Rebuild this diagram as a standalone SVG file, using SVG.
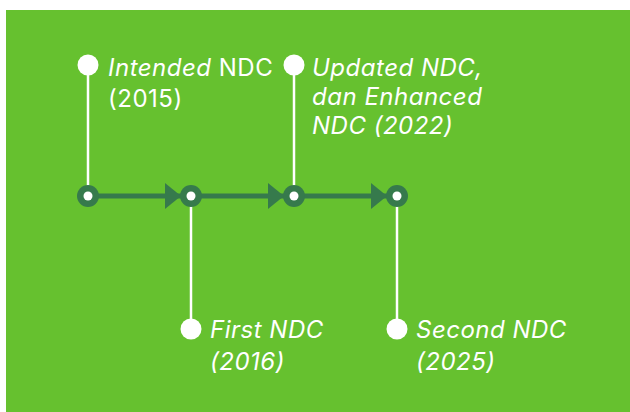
<svg xmlns="http://www.w3.org/2000/svg" width="630" height="412" viewBox="0 0 630 412">
  <defs>
    <style>
      .bg { fill: #66c12f; }
      .axis { stroke: #367a4c; stroke-width: 5; fill: none; }
      .arrow { fill: #367a4c; }
      .ring { fill: #367a4c; }
      .hole { fill: #ffffff; }
      .stem { stroke: #ffffff; stroke-width: 2.5; }
      .dot { fill: #ffffff; }
      .label { font-family: Inter, "Open Sans", sans-serif; font-size: 24px; letter-spacing: 0.5px; fill: #ffffff; }
      .it { font-style: italic; }
    </style>
  </defs>

  <rect class="bg" x="6" y="10" width="624" height="402"/>

  <!-- timeline axis with arrows and white stems -->
  <g id="connectors">
    <line class="axis" x1="88" y1="196" x2="397" y2="196"/>
    <polygon class="arrow" points="165,183 181,196 165,209"/>
    <polygon class="arrow" points="268,183 284,196 268,209"/>
    <polygon class="arrow" points="371,183 387,196 371,209"/>
    <line class="stem" x1="88" y1="65" x2="88" y2="196"/>
    <line class="stem" x1="191" y1="196" x2="191" y2="329"/>
    <line class="stem" x1="294" y1="65" x2="294" y2="196"/>
    <line class="stem" x1="397" y1="196" x2="397" y2="329"/>
  </g>

  <g id="node-2015">
    <circle class="ring" cx="88" cy="196" r="11"/>
    <circle class="hole" cx="88" cy="196" r="4.5"/>
    <circle class="dot" cx="88" cy="65" r="10.5"/>
    <text class="label" x="108" y="76"><tspan class="it">Intended</tspan> NDC</text>
    <text class="label" x="108" y="107">(2015)</text>
  </g>

  <g id="node-2016">
    <circle class="ring" cx="191" cy="196" r="11"/>
    <circle class="hole" cx="191" cy="196" r="4.5"/>
    <circle class="dot" cx="191" cy="329" r="10.5"/>
    <text class="label it" x="210" y="338">First NDC</text>
    <text class="label it" x="210" y="370">(2016)</text>
  </g>

  <g id="node-2022">
    <circle class="ring" cx="294" cy="196" r="11"/>
    <circle class="hole" cx="294" cy="196" r="4.5"/>
    <circle class="dot" cx="294" cy="65" r="10.5"/>
    <text class="label it" x="312" y="76">Updated NDC,</text>
    <text class="label it" x="312" y="105">dan Enhanced</text>
    <text class="label it" x="312" y="134">NDC (2022)</text>
  </g>

  <g id="node-2025">
    <circle class="ring" cx="397" cy="196" r="11"/>
    <circle class="hole" cx="397" cy="196" r="4.5"/>
    <circle class="dot" cx="397" cy="329" r="10.5"/>
    <text class="label it" x="416" y="338">Second NDC</text>
    <text class="label it" x="416" y="370">(2025)</text>
  </g>
</svg>
